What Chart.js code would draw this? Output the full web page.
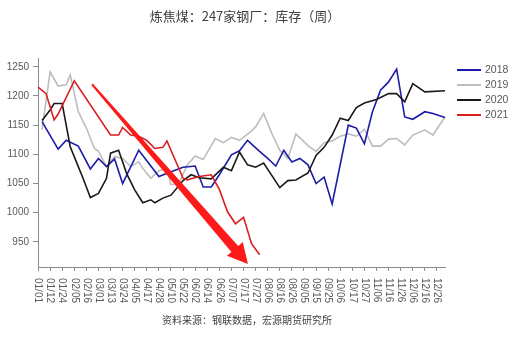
<!DOCTYPE html>
<html>
<head>
<meta charset="utf-8">
<script src="https://cdn.jsdelivr.net/npm/chart.js@4/dist/chart.umd.min.js"></script>
<style>
  html, body { margin: 0; padding: 0; background: #ffffff; }
  #wrap { width: 519px; height: 343px; position: relative; }
</style>
</head>
<body>
<div id="wrap"><canvas id="chart" width="519" height="343"></canvas></div>
<script>
// Date categories (month/day); every third one carries a tick label
const categories = [
  '01/01','01/04','01/08','01/12','01/16','01/20','01/24','01/28','02/01','02/05',
  '02/09','02/12','02/16','02/20','02/25','03/01','03/05','03/09','03/13','03/17',
  '03/20','03/24','03/28','04/01','04/05','04/09','04/13','04/17','04/21','04/24',
  '04/28','05/02','05/06','05/10','05/14','05/18','05/22','05/26','05/29','06/02',
  '06/06','06/10','06/14','06/18','06/22','06/26','06/30','07/03','07/07','07/10',
  '07/14','07/17','07/20','07/24','07/27','07/30','08/03','08/06','08/09','08/13',
  '08/16','08/19','08/23','08/26','08/29','09/02','09/05','09/08','09/12','09/15',
  '09/18','09/22','09/25','09/29','10/02','10/06','10/10','10/13','10/17','10/20',
  '10/24','10/27','10/30','11/03','11/06','11/09','11/13','11/16','11/19','11/23',
  '11/26','11/29','12/03','12/06','12/09','12/13','12/16','12/19','12/23','12/26',
  '12/29','12/31'
];
const tickEvery = 3;
const yTicks = [950, 1000, 1050, 1100, 1150, 1200, 1250];

const years = ['2018', '2019', '2020', '2021'];

// 2018
const dates2018 = ['01/04','01/20','01/28','02/09','02/20','03/01','03/09','03/17','03/24','04/09',
  '04/28','05/10','05/22','06/02','06/10','06/18','06/26','07/07','07/14','07/20',
  '07/30','08/06','08/13','08/19','08/26','09/02','09/08','09/15','09/22','09/29',
  '10/13','10/20','10/27','11/03','11/09','11/16','11/23','11/29','12/06','12/16',
  '12/23','12/31'];
const stock2018 = [1156,1109,1124,1114,1075,1093,1079,1092,1050,1107,
  1062,1070,1078,1080,1044,1044,1065,1099,1106,1124,
  1105,1093,1080,1107,1087,1093,1082,1050,1061,1015,
  1150,1145,1118,1173,1210,1224,1246,1164,1160,1173,
  1170,1163];

// 2019
const dates2019 = ['01/04','01/12','01/20','01/28','02/01','02/09','02/16','02/25','03/01','03/09',
  '03/17','03/24','04/01','04/09','04/13','04/21','04/28','05/06','05/10','05/18',
  '05/26','06/02','06/10','06/22','06/30','07/07','07/14','07/24','07/27','08/03',
  '08/09','08/16','08/23','08/29','09/08','09/15','09/22','09/29','10/06','10/13',
  '10/20','10/27','11/03','11/09','11/16','11/23','11/29','12/06','12/16','12/23',
  '12/31'];
const stock2019 = [1142,1241,1217,1219,1236,1173,1145,1110,1105,1079,
  1096,1093,1079,1087,1076,1059,1072,1076,1048,1050,
  1082,1097,1091,1127,1120,1129,1124,1140,1147,1170,
  1136,1107,1093,1135,1115,1105,1120,1123,1131,1135,
  1131,1143,1114,1114,1126,1127,1116,1133,1142,1133,
  1164];

// 2020
const dates2020 = ['01/04','01/12','01/16','01/24','02/01','02/09','02/12','02/20','03/01','03/09',
  '03/13','03/20','03/28','04/05','04/13','04/21','04/24','05/02','05/10','05/22',
  '05/29','06/06','06/18','06/30','07/07','07/14','07/20','07/27','08/03','08/16',
  '08/23','08/29','09/08','09/15','09/22','09/29','10/06','10/13','10/20','10/27',
  '11/06','11/16','11/23','11/29','12/06','12/16','12/31'];
const stock2020 = [1158,1176,1187,1187,1113,1079,1062,1026,1033,1059,
  1102,1107,1067,1039,1017,1022,1017,1025,1030,1055,
  1065,1060,1058,1078,1072,1104,1082,1078,1085,1043,
  1055,1056,1068,1098,1112,1133,1162,1158,1180,1188,
  1194,1204,1204,1190,1221,1207,1209];

// 2021
const dates2021 = ['01/01','01/08','01/16','01/20','02/05','03/13','03/20','03/24','04/01','04/09',
  '04/17','04/24','05/02','05/06','05/22','05/26','06/06','06/18','06/26','07/03',
  '07/10','07/17','07/24','07/30'];
const stock2021 = [1215,1204,1159,1169,1226,1133,1133,1146,1133,1131,
  1124,1110,1112,1123,1059,1056,1062,1065,1040,1002,
  981,992,947,928];

const lineColors = ['#1c1ca8', '#bdbdbd', '#1a1a1a', '#d81e1e'];
const seriesDates = [dates2018, dates2019, dates2020, dates2021];
const seriesStock = [stock2018, stock2019, stock2020, stock2021];
const drawOrder = [2, 3, 1, 0];

// Trend arrow: from (date category, value) to (date category, value)
const trendFrom = { cat: 13.4, value: 1220 };
const trendTo = { cat: 52.1, value: 912 };

const titleText = '炼焦煤：247家钢厂：库存（周）';
const sourceText = '资料来源：钢联数据，宏源期货研究所';

const axisColor = '#8c8c8c';
const textColor = '#595959';
const cjkFont = '"Noto Sans CJK SC", "Noto Sans", sans-serif';
const latinFont = '"Liberation Sans", Arial, sans-serif';

const datasets = years.map((y, k) => ({
  label: y,
  data: seriesDates[k].map((d, i) => ({ x: d, y: seriesStock[k][i] })),
  borderColor: lineColors[k],
  backgroundColor: lineColors[k],
  borderWidth: 1.6,
  pointRadius: 0,
  pointHoverRadius: 0,
  tension: 0,
  spanGaps: true,
  fill: false,
  order: drawOrder[k]
}));

const decorations = {
  id: 'decorations',
  afterDraw(chart) {
    const ctx = chart.ctx;
    const xs = chart.scales.x;
    const ys = chart.scales.y;
    ctx.save();

    // Title
    ctx.fillStyle = '#404040';
    ctx.font = '13px ' + cjkFont;
    ctx.textAlign = 'center';
    ctx.textBaseline = 'middle';
    ctx.fillText(titleText, 245, 16);

    // Rotated date labels under the x axis (reading downward)
    ctx.fillStyle = textColor;
    ctx.font = '10px ' + latinFont;
    ctx.textAlign = 'left';
    ctx.textBaseline = 'middle';
    xs.ticks.forEach(t => {
      const px = xs.getPixelForValue(t.value);
      ctx.save();
      ctx.translate(px, xs.top + 11);
      ctx.rotate(Math.PI / 2);
      ctx.fillText(categories[t.value], 0, 0);
      ctx.restore();
    });

    // Source note
    ctx.fillStyle = '#404040';
    ctx.font = '10px ' + cjkFont;
    ctx.textAlign = 'left';
    ctx.textBaseline = 'middle';
    ctx.fillText(sourceText, 162, 320);

    // Legend
    ctx.font = '10.5px ' + latinFont;
    ctx.textBaseline = 'middle';
    years.forEach((y, k) => {
      const ly = 70 + k * 15;
      ctx.strokeStyle = lineColors[k];
      ctx.lineWidth = 2;
      ctx.beginPath();
      ctx.moveTo(457, ly);
      ctx.lineTo(481, ly);
      ctx.stroke();
      ctx.fillStyle = textColor;
      ctx.fillText(y, 485, ly + 0.5);
    });

    // Tapered trend arrow
    const x0 = xs.getPixelForValue(trendFrom.cat), y0 = ys.getPixelForValue(trendFrom.value);
    const x1 = xs.getPixelForValue(trendTo.cat), y1 = ys.getPixelForValue(trendTo.value);
    const len = Math.hypot(x1 - x0, y1 - y0);
    const ux = (x1 - x0) / len, uy = (y1 - y0) / len;
    const nx = -uy, ny = ux;
    const headLen = 20, headHalf = 10.5, startHalf = 1, shaftHalf = 4.5;
    const bx = x1 - ux * headLen, by = y1 - uy * headLen;
    ctx.fillStyle = '#ff1a1a';
    ctx.beginPath();
    ctx.moveTo(x0 + nx * startHalf, y0 + ny * startHalf);
    ctx.lineTo(bx + nx * shaftHalf, by + ny * shaftHalf);
    ctx.lineTo(bx + nx * headHalf, by + ny * headHalf);
    ctx.lineTo(x1, y1);
    ctx.lineTo(bx - nx * headHalf, by - ny * headHalf);
    ctx.lineTo(bx - nx * shaftHalf, by - ny * shaftHalf);
    ctx.lineTo(x0 - nx * startHalf, y0 - ny * startHalf);
    ctx.closePath();
    ctx.fill();

    ctx.restore();
  }
};

new Chart(document.getElementById('chart'), {
  type: 'line',
  data: { labels: categories, datasets },
  options: {
    responsive: false,
    animation: false,
    devicePixelRatio: 1,
    layout: { padding: { top: 58, right: 74, bottom: 0, left: 0 } },
    plugins: {
      legend: { display: false },
      title: { display: false },
      tooltip: { enabled: false }
    },
    scales: {
      x: {
        type: 'category',
        offset: false,
        border: { display: true, color: axisColor, width: 1 },
        grid: { display: true, drawOnChartArea: false, drawTicks: true, tickLength: 4, color: axisColor },
        ticks: { display: false },
        afterBuildTicks: s => { s.ticks = s.ticks.filter(t => t.value % tickEvery === 0 && t.value < categories.length - 2); },
        afterFit: s => { s.height = 76; }
      },
      y: {
        type: 'linear',
        min: 907,
        max: 1265,
        border: { display: true, color: axisColor, width: 1 },
        grid: { display: true, drawOnChartArea: false, drawTicks: true, tickLength: 5, color: axisColor },
        ticks: {
          stepSize: 50,
          includeBounds: false,
          color: textColor,
          font: { size: 10, family: latinFont },
          padding: 4,
          callback: v => String(v)
        },
        afterBuildTicks: s => { s.ticks = yTicks.map(v => ({ value: v })); },
        afterFit: s => { s.width = 38; }
      }
    }
  },
  plugins: [decorations]
});
</script>
</body>
</html>
